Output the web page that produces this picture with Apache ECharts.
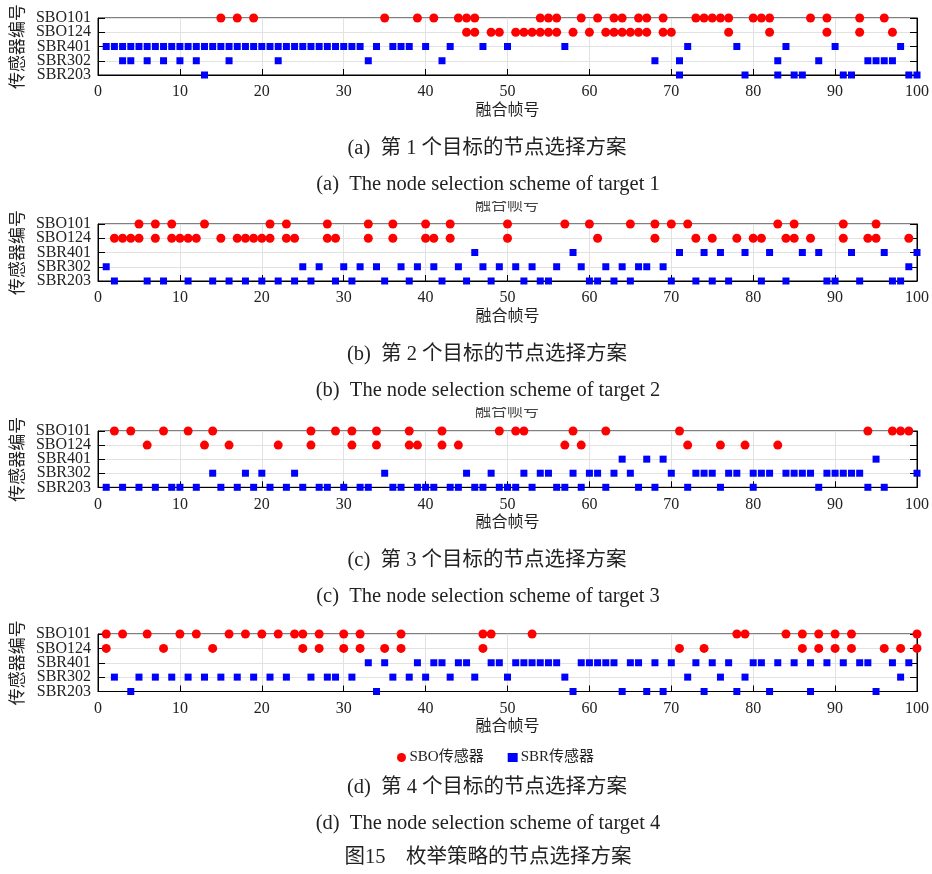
<!DOCTYPE html>
<html>
<head>
<meta charset="utf-8">
<script src="https://cdn.jsdelivr.net/npm/echarts@6/dist/echarts.min.js"></script>
<style>
  html, body { margin: 0; padding: 0; background: #ffffff; }
  #chart { width: 932px; height: 874px; }
</style>
</head>
<body>
<div id="chart"></div>
<script>
// Sensor rows, bottom to top
const sensors = ['SBR203', 'SBR302', 'SBR401', 'SBO124', 'SBO101'];
const xTicks = [0, 10, 20, 30, 40, 50, 60, 70, 80, 90, 100];

// Target 1: fusion frames in which each sensor was selected
const t1_SBO101 = [15,17,19,35,39,41,44,45,46,54,55,56,59,61,63,64,66,67,69,73,74,75,76,77,80,81,82,87,89,93,96];
const t1_SBO124 = [45,46,48,49,51,52,53,54,55,56,58,60,62,63,64,65,66,67,69,70,77,82,89,93,97];
const t1_SBR401 = [1,2,3,4,5,6,7,8,9,10,11,12,13,14,15,16,17,18,19,20,21,22,23,24,25,26,27,28,29,30,31,32,34,36,37,38,40,43,47,50,57,72,78,84,90,98];
const t1_SBR302 = [3,4,6,8,10,12,16,22,33,42,68,71,83,88,94,95,96,97];
const t1_SBR203 = [13,71,79,83,85,86,91,92,99,100];

// Target 2
const t2_SBO101 = [5,7,9,13,21,23,28,33,36,40,43,50,57,60,65,68,70,72,83,85,91,95];
const t2_SBO124 = [2,3,4,5,7,9,10,11,12,15,17,18,19,20,21,23,24,28,29,33,36,40,41,43,50,61,68,73,75,78,80,81,84,85,87,91,94,95,99];
const t2_SBR401 = [46,58,71,74,76,79,82,86,88,92,96,100];
const t2_SBR302 = [1,25,27,30,32,34,37,39,41,44,47,49,51,53,56,59,62,64,66,67,69,99];
const t2_SBR203 = [2,6,8,11,14,16,18,20,22,24,26,29,31,35,38,42,45,48,52,54,55,60,61,63,65,70,73,75,77,81,84,89,90,93,97,98];

// Target 3
const t3_SBO101 = [2,4,8,11,14,26,29,31,34,38,42,49,51,52,58,62,71,94,97,98,99];
const t3_SBO124 = [6,13,16,22,26,31,34,38,39,42,44,57,59,72,76,79,83];
const t3_SBR401 = [64,67,69,95];
const t3_SBR302 = [14,18,20,24,35,45,48,52,54,55,58,60,61,63,65,70,73,74,75,77,78,80,81,82,84,85,86,87,89,90,91,92,93,100];
const t3_SBR203 = [1,3,5,7,9,10,12,15,17,19,21,23,25,27,28,30,32,33,36,37,39,40,41,43,44,46,47,49,50,51,53,56,57,59,62,66,68,72,76,80,88,94,96];

// Target 4
const t4_SBO101 = [1,3,6,10,12,16,18,20,22,24,25,27,30,32,37,47,48,53,78,79,84,86,88,90,92,100];
const t4_SBO124 = [1,8,14,25,27,30,32,35,37,47,71,74,86,88,90,92,96,98,100];
const t4_SBR401 = [33,35,39,41,42,44,45,48,49,51,52,53,54,55,56,59,60,61,62,63,65,66,68,70,73,75,77,80,81,83,85,87,89,91,93,94,97,99];
const t4_SBR302 = [2,5,7,9,11,13,15,17,19,21,23,26,28,29,31,36,38,40,43,46,50,57,72,76,79,98];
const t4_SBR203 = [4,34,58,64,67,69,74,78,82,87,95];

// Caption texts
const subCaptionsCN = ['(a)  第 1 个目标的节点选择方案', '(b)  第 2 个目标的节点选择方案', '(c)  第 3 个目标的节点选择方案', '(d)  第 4 个目标的节点选择方案'];
const subCaptionsEN = ['(a)  The node selection scheme of target 1', '(b)  The node selection scheme of target 2', '(c)  The node selection scheme of target 3', '(d)  The node selection scheme of target 4'];
const figCaption = '图15    枚举策略的节点选择方案';
const xName = '融合帧号';
const yName = '传感器编号';
const sboName = 'SBO传感器';
const sbrName = 'SBR传感器';

const SERIF = "'Liberation Serif', 'Times New Roman', 'Noto Sans CJK SC', serif";
const CJK = "'Noto Sans CJK SC', 'Liberation Serif', sans-serif";

const panels = [
  { top: 18,  height: 57, sbo: [t1_SBO101, t1_SBO124], sbr: [t1_SBR401, t1_SBR302, t1_SBR203], capCN: 149, capEN: 185 },
  { top: 224, height: 57, sbo: [t2_SBO101, t2_SBO124], sbr: [t2_SBR401, t2_SBR302, t2_SBR203], capCN: 355, capEN: 391 },
  { top: 431, height: 56.3, sbo: [t3_SBO101, t3_SBO124], sbr: [t3_SBR401, t3_SBR302, t3_SBR203], capCN: 561, capEN: 597 },
  { top: 634, height: 57.5, sbo: [t4_SBO101, t4_SBO124], sbr: [t4_SBR401, t4_SBR302, t4_SBR203], capCN: 788, capEN: 824 }
];

function points(frames, sensor) {
  return frames.map(function (f) { return [f, sensor]; });
}

const grids = [], xAxes = [], yAxes = [], series = [], graphics = [];
const GRID_LEFT = 97, GRID_W = 820, CAP_X = 487;

panels.forEach(function (p, i) {
  grids.push({
    left: GRID_LEFT, top: p.top, width: GRID_W, height: p.height,
    show: true, borderColor: '#000', borderWidth: 1, backgroundColor: 'transparent'
  });
  xAxes.push({
    gridIndex: i, type: 'value', min: 0, max: 100, interval: 10,
    name: xName, nameLocation: 'middle', nameGap: 25,
    nameTextStyle: { fontFamily: CJK, fontSize: 16, color: '#222' },
    axisLine: { show: true, lineStyle: { color: '#000', width: 1 } },
    axisTick: { show: true, inside: true, length: 6, lineStyle: { color: '#000' } },
    axisLabel: { fontFamily: SERIF, fontSize: 16, color: '#222', margin: 9,
      formatter: function (v) { return xTicks.indexOf(v) >= 0 ? String(v) : ''; } },
    splitLine: { show: true, lineStyle: { color: '#e2e2e2', width: 1 } }
  });
  yAxes.push({
    gridIndex: i, type: 'category', data: sensors, boundaryGap: false,
    name: yName, nameLocation: 'middle', nameGap: 70, nameRotate: 90,
    nameTextStyle: { fontFamily: CJK, fontSize: 17, color: '#222' },
    axisLine: { show: true, lineStyle: { color: '#000', width: 1 } },
    axisTick: { show: true, inside: true, length: 7, interval: 0, lineStyle: { color: '#000' } },
    axisLabel: { fontFamily: SERIF, fontSize: 16, color: '#222', margin: 7, interval: 0 },
    splitLine: { show: true, interval: 0, lineStyle: { color: '#e2e2e2', width: 1 } }
  });
  // right-hand ticks of the boxed axes
  yAxes.push({
    gridIndex: i, type: 'category', data: sensors, boundaryGap: false, position: 'right',
    axisLine: { show: true, lineStyle: { color: '#000', width: 1 } },
    axisTick: { show: true, inside: true, length: 7, interval: 0, lineStyle: { color: '#000' } },
    axisLabel: { show: false }, splitLine: { show: false }
  });
  const yIdx = i * 2;
  series.push({
    name: sboName, type: 'scatter', xAxisIndex: i, yAxisIndex: yIdx, clip: false,
    symbol: 'circle', symbolSize: 9, itemStyle: { color: '#ff0000', opacity: 1 },
    data: points(p.sbo[0], 'SBO101').concat(points(p.sbo[1], 'SBO124')),
    z: 3
  });
  series.push({
    name: sbrName, type: 'scatter', xAxisIndex: i, yAxisIndex: yIdx, clip: false,
    symbol: 'rect', symbolSize: 7, itemStyle: { color: '#0000ff', opacity: 1 },
    data: points(p.sbr[0], 'SBR401').concat(points(p.sbr[1], 'SBR302'), points(p.sbr[2], 'SBR203')),
    z: 3
  });
  graphics.push({
    type: 'text', x: CAP_X, y: p.capCN,
    style: { text: subCaptionsCN[i], font: '20.5px ' + SERIF, fill: '#222', textAlign: 'center', textVerticalAlign: 'middle' }
  });
  graphics.push({
    type: 'text', x: CAP_X + 1, y: p.capEN, z: 5,
    style: { text: subCaptionsEN[i], font: '20.5px ' + SERIF, fill: '#222', textAlign: 'center', textVerticalAlign: 'middle' }
  });
});

// cut-off axis title strips peeking out above panels (b) and (c)
[204, 410].forEach(function (yc) {
  graphics.push({
    type: 'text', x: 507, y: yc, z: 1,
    style: { text: xName, font: '16px ' + CJK, fill: '#444', textAlign: 'center', textVerticalAlign: 'middle' }
  });
  graphics.push({
    type: 'rect', z: 2, shape: { x: 470, y: yc - 12, width: 75, height: 9 },
    style: { fill: '#ffffff' }
  });
});

graphics.push({
  type: 'text', x: CAP_X + 1, y: 858,
  style: { text: figCaption, font: '20.5px ' + SERIF, fill: '#222', textAlign: 'center', textVerticalAlign: 'middle' }
});

const option = {
  animation: false,
  backgroundColor: '#ffffff',
  grid: grids,
  xAxis: xAxes,
  yAxis: yAxes,
  legend: {
    data: [
      { name: sboName, icon: 'circle', itemStyle: { color: '#ff0000' } },
      { name: sbrName, icon: 'rect', itemStyle: { color: '#0000ff' } }
    ],
    left: 392, top: 745, itemWidth: 10, itemHeight: 9, itemGap: 24,
    textStyle: { fontFamily: SERIF, fontSize: 15, color: '#222', padding: [0, 0, 0, -2] }
  },
  graphic: graphics,
  series: series
};

const chart = echarts.init(document.getElementById('chart'), null, { renderer: 'canvas' });
chart.setOption(option);
</script>
</body>
</html>
